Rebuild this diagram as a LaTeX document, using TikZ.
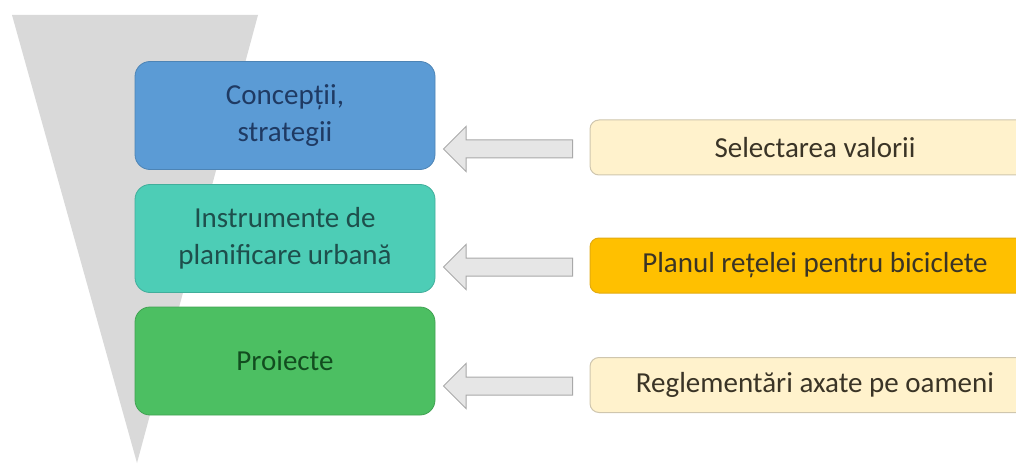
\documentclass[tikz,border=0pt]{standalone}
\usepackage{fontspec}
\setmainfont{Carlito}
\usetikzlibrary{shapes.arrows}
\definecolor{trigray}{HTML}{D9D9D9}
\definecolor{cblue}{HTML}{5B9BD5}
\definecolor{cteal}{HTML}{4DCDB6}
\definecolor{cgreen}{HTML}{4CBF62}
\definecolor{cpale}{HTML}{FFF2CC}
\definecolor{cpaleb}{HTML}{CFC6AE}
\definecolor{corange}{HTML}{FFC000}
\definecolor{corangeb}{HTML}{E3AB10}
\definecolor{arrfill}{HTML}{E6E6E6}
\definecolor{arrdraw}{HTML}{A9A9A9}
\definecolor{tblue}{HTML}{1F3A63}
\definecolor{tteal}{HTML}{1E4F4C}
\definecolor{tgreen}{HTML}{124D1F}
\definecolor{tright}{HTML}{3A3426}
\tikzset{
  leftbox/.style={rounded corners=15pt, minimum width=300pt, minimum height=108pt,
    align=center, font=\fontsize{29}{37}\selectfont, line width=0.8pt},
  rightbox/.style={rounded corners=9pt, minimum width=450pt, minimum height=55pt,
    align=center, font=\fontsize{29}{37}\selectfont, text=tright, line width=1pt},
  blockarrow/.style={single arrow, shape border rotate=180, fill=arrfill, draw=arrdraw,
    line width=1pt, minimum height=129pt, single arrow head extend=13.5pt,
    single arrow tip angle=90, text height=0pt, text depth=0pt, inner ysep=8.5pt, inner xsep=0pt}
}
\begin{document}
\begin{tikzpicture}[x=1pt,y=-1pt]
\useasboundingbox (0,0) rectangle (1016,465);
\fill[trigray] (12,15) -- (258,15) -- (137,463) -- cycle;
\node[leftbox, fill=cblue, draw=cblue!85!black, text=tblue] (b1) at (285,115.5) {Concepții,\\strategii};
\node[leftbox, fill=cteal, draw=cteal!85!black, text=tteal] (b2) at (285,238.5) {Instrumente de\\planificare urbană};
\node[leftbox, fill=cgreen, draw=cgreen!85!black, text=tgreen] (b3) at (285,361) {Proiecte};
\node[rightbox, fill=cpale, draw=cpaleb] (r1) at (815,147.5) {Selectarea valorii};
\node[rightbox, fill=corange, draw=corangeb] (r2) at (815,265.5) {Planul rețelei pentru biciclete};
\node[rightbox, fill=cpale, draw=cpaleb] (r3) at (815,385) {Reglementări axate pe oameni};
\node[blockarrow] (a1) at (512.5,149) {};
\node[blockarrow] (a2) at (512.5,267) {};
\node[blockarrow] (a3) at (512.5,386) {};
\end{tikzpicture}
\end{document}
